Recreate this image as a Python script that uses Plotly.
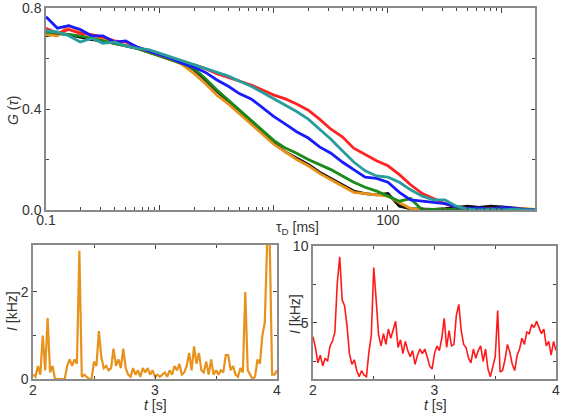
import plotly.graph_objects as go

W, H = 562, 415

# ---------------- data ----------------
tau_ms = [0.1, 0.126, 0.158, 0.2, 0.251, 0.316, 0.398, 0.501, 0.631, 0.794,
          1.0, 1.26, 1.58, 2.0, 2.51, 3.16, 3.98, 5.01, 6.31, 7.94,
          10.0, 12.6, 15.8, 20.0, 25.1, 31.6, 39.8, 50.1, 63.1, 79.4,
          100, 126, 158, 200, 251, 316, 398, 501, 631, 794,
          1000, 1260, 1580, 2000]

g_black = [0.69, 0.70, 0.695, 0.685, 0.675, 0.67, 0.66, 0.65, 0.64, 0.625,
           0.61, 0.595, 0.58, 0.555, 0.515, 0.47, 0.43, 0.39, 0.345, 0.305,
           0.265, 0.23, 0.205, 0.18, 0.15, 0.125, 0.10, 0.075, 0.065, 0.06,
           0.065, 0.015, 0.005, 0.003, 0.002, 0.005, 0.01, 0.015, 0.01, 0.015,
           0.012, 0.008, 0.005, 0.0]
g_orange = [0.695, 0.69, 0.73, 0.71, 0.69, 0.68, 0.665, 0.65, 0.64, 0.625,
            0.61, 0.595, 0.575, 0.54, 0.50, 0.455, 0.42, 0.38, 0.34, 0.30,
            0.26, 0.23, 0.20, 0.175, 0.145, 0.12, 0.095, 0.07, 0.065, 0.06,
            0.055, 0.03, 0.005, 0.0, 0.0, 0.002, 0.0, 0.0, 0.002, 0.0,
            0.0, 0.003, 0.005, 0.002]
g_green = [0.705, 0.70, 0.695, 0.69, 0.68, 0.67, 0.66, 0.65, 0.64, 0.625,
           0.61, 0.595, 0.58, 0.56, 0.52, 0.475, 0.435, 0.395, 0.355, 0.315,
           0.275, 0.245, 0.225, 0.20, 0.18, 0.16, 0.135, 0.11, 0.09, 0.075,
           0.055, 0.035, 0.045, 0.0, 0.002, 0.0, 0.003, 0.0, 0.002, 0.004,
           0.002, 0.0, 0.0, 0.0]
g_red = [0.72, 0.70, 0.715, 0.70, 0.695, 0.685, 0.67, 0.665, 0.645, 0.63,
         0.615, 0.60, 0.585, 0.575, 0.56, 0.54, 0.525, 0.51, 0.495, 0.475,
         0.455, 0.44, 0.42, 0.395, 0.36, 0.32, 0.29, 0.245, 0.22, 0.195,
         0.175, 0.14, 0.10, 0.065, 0.045, 0.025, 0.012, 0.005, 0.003, 0.005,
         0.002, 0.004, 0.002, 0.0]
g_blue = [0.765, 0.72, 0.73, 0.715, 0.69, 0.69, 0.665, 0.67, 0.645, 0.63,
          0.615, 0.60, 0.58, 0.565, 0.545, 0.515, 0.49, 0.46, 0.44, 0.405,
          0.37, 0.34, 0.31, 0.285, 0.25, 0.225, 0.19, 0.16, 0.13, 0.125,
          0.11, 0.07, 0.04, 0.035, 0.03, 0.025, 0.012, 0.005, 0.008, 0.003,
          0.01, 0.005, 0.002, 0.0]
g_teal = [0.71, 0.705, 0.69, 0.665, 0.68, 0.66, 0.665, 0.65, 0.64, 0.635,
          0.62, 0.605, 0.59, 0.575, 0.56, 0.545, 0.53, 0.51, 0.49, 0.465,
          0.44, 0.415, 0.39, 0.36, 0.32, 0.28, 0.235, 0.19, 0.155, 0.135,
          0.13, 0.11, 0.08, 0.055, 0.04, 0.04, 0.015, 0.003, 0.0, 0.002,
          0.0, 0.003, 0.0, 0.0]

t_s = [2.00, 2.02, 2.04, 2.06, 2.08, 2.10, 2.12, 2.14, 2.16, 2.18,
       2.20, 2.22, 2.24, 2.26, 2.28, 2.30, 2.32, 2.34, 2.36, 2.38,
       2.40, 2.42, 2.44, 2.46, 2.48, 2.50, 2.52, 2.54, 2.56, 2.58,
       2.60, 2.62, 2.64, 2.66, 2.68, 2.70, 2.72, 2.74, 2.76, 2.78,
       2.80, 2.82, 2.84, 2.86, 2.88, 2.90, 2.92, 2.94, 2.96, 2.98,
       3.00, 3.02, 3.04, 3.06, 3.08, 3.10, 3.12, 3.14, 3.16, 3.18,
       3.20, 3.22, 3.24, 3.26, 3.28, 3.30, 3.32, 3.34, 3.36, 3.38,
       3.40, 3.42, 3.44, 3.46, 3.48, 3.50, 3.52, 3.54, 3.56, 3.58,
       3.60, 3.62, 3.64, 3.66, 3.68, 3.70, 3.72, 3.74, 3.76, 3.78,
       3.80, 3.82, 3.84, 3.86, 3.88, 3.90, 3.92, 3.94, 3.96, 3.98, 4.00]

i_orange = [0.1, 0.05, 0.3, 0.1, 1.0, 0.2, 1.4, 0.15, 0.3, 0.0,
            0.0, 0.0, 0.0, 0.0, 0.3, 0.45, 0.3, 0.45, 0.35, 2.95,
            0.05, 0.1, 0.05, 0.0, 0.0, 0.4, 0.3, 1.1, 0.5, 0.25,
            0.3, 0.2, 0.25, 0.7, 0.3, 0.45, 0.25, 0.7, 0.25, 0.1,
            0.05, 0.25, 0.1, 0.2, 0.05, 0.25, 0.15, 0.25, 0.1, 0.2,
            0.05, 0.1, 0.05, 0.1, 0.15, 0.05, 0.2, 0.1, 0.3, 0.2,
            0.35, 0.1, 0.15, 0.3, 0.6, 0.2, 0.75, 0.35, 0.6, 0.2,
            0.15, 0.4, 0.1, 0.45, 0.1, 0.2, 0.1, 0.2, 0.15, 0.55,
            0.55, 0.2, 0.3, 0.1, 0.05, 0.25, 0.15, 2.0, 0.2, 0.1,
            0.0, 0.05, 0.45, 0.35, 1.0, 1.3, 3.2, 3.2, 0.1, 0.1, 0.2]

i_red = [4.1, 3.4, 2.4, 2.9, 2.2, 2.7, 2.5, 3.5, 3.8, 4.4,
         7.6, 9.3, 6.5, 6.1, 4.8, 3.0, 2.3, 2.6, 1.9, 1.5,
         1.9, 1.6, 1.5, 3.1, 4.2, 8.6, 6.5, 4.2, 3.5, 4.3,
         3.6, 4.6, 4.0, 4.6, 5.1, 3.4, 3.9, 3.0, 3.8, 3.2,
         2.8, 3.2, 2.3, 2.9, 3.3, 3.0, 3.3, 2.8, 2.2, 2.0,
         3.0, 3.5, 3.2, 4.0, 5.3, 3.4, 4.5, 3.5, 3.6, 5.5,
         6.2, 4.5, 3.6, 3.4, 2.7, 2.4, 3.3, 2.7, 3.2, 3.5,
         2.5, 3.3, 2.0, 1.5, 2.1, 2.8, 5.8, 1.8, 1.9, 2.6,
         3.6, 3.1, 2.3, 1.9, 2.9, 3.3, 4.0, 3.6, 4.4, 4.3,
         4.9, 4.7, 5.1, 4.7, 4.3, 4.6, 3.5, 3.8, 2.9, 3.8, 3.2]

# ---------------- figure ----------------
def px(x):
    return x / W

def py(y):
    return 1 - y / H

FONT = "Liberation Sans, Arial, sans-serif"
TXT = "#333333"
AX = "#8a8a8a"

fig = go.Figure()

top_series = [
    (g_black, "#111111"),
    (g_orange, "#e8921c"),
    (g_green, "#1a8a1a"),
    (g_red, "#ff2222"),
    (g_blue, "#1a1aff"),
    (g_teal, "#2a9c9c"),
]
for vals, col in top_series:
    fig.add_trace(go.Scatter(x=tau_ms, y=vals, mode="lines", xaxis="x", yaxis="y",
                             line=dict(color=col, width=2.8), showlegend=False))

fig.add_trace(go.Scatter(x=t_s, y=i_orange, mode="lines", xaxis="x2", yaxis="y2",
                         line=dict(color="#e8921c", width=2.2), showlegend=False))
fig.add_trace(go.Scatter(x=t_s, y=i_red, mode="lines", xaxis="x3", yaxis="y3",
                         line=dict(color="#ff1a1a", width=1.6), showlegend=False))

common = dict(showline=True, linecolor=AX, linewidth=1.5, mirror="ticks",
              ticks="inside", tickcolor="#444444", tickwidth=1, showgrid=False,
              zeroline=False, automargin=False, ticklabeloverflow="allow",
              tickfont=dict(family=FONT, size=14, color=TXT))

log_minor = []
for dec in [0.1, 1, 10, 100, 1000]:
    for m in range(2, 10):
        log_minor.append(dec * m)

fig.update_layout(
    width=W, height=H,
    margin=dict(l=0, r=0, t=0, b=0, autoexpand=False),
    paper_bgcolor="white", plot_bgcolor="white", showlegend=False,
    xaxis=dict(domain=[px(46), px(535)], anchor="y", type="log",
               range=[-1, 3.29], tickmode="array",
               tickvals=[0.1, 1, 10, 100, 1000],
               ticktext=["0.1", "", "", "100", ""], ticklen=5,
               ticklabelstandoff=-4,
               minor=dict(ticks="inside", ticklen=3, tickvals=log_minor,
                          tickcolor="#444444"),
               **common),
    yaxis=dict(domain=[py(210), py(8)], anchor="x", range=[0, 0.8],
               tickmode="array", tickvals=[0, 0.4, 0.8],
               ticktext=["0.0", "0.4", "0.8"], ticklen=4,
               minor=dict(ticks="inside", ticklen=3, tickvals=[0.2, 0.6],
                          tickcolor="#444444"),
               **common),
    xaxis2=dict(domain=[px(33), px(277)], anchor="y2", range=[2, 4],
                tickmode="array", tickvals=[2, 3, 4], ticklen=4,
                ticklabelstandoff=-3,
                minor=dict(ticks="inside", ticklen=3, tickvals=[2.5, 3.5],
                           tickcolor="#444444"),
                **common),
    yaxis2=dict(domain=[py(379), py(245)], anchor="x2", range=[0, 3.08],
                tickmode="array", tickvals=[0, 2], ticklen=4,
                minor=dict(ticks="inside", ticklen=3, tickvals=[1],
                           tickcolor="#444444"),
                **common),
    xaxis3=dict(domain=[px(313), px(556)], anchor="y3", range=[2, 4],
                tickmode="array", tickvals=[2, 3, 4], ticklen=4,
                ticklabelstandoff=-3,
                minor=dict(ticks="inside", ticklen=3, tickvals=[2.5, 3.5],
                           tickcolor="#444444"),
                **common),
    yaxis3=dict(domain=[py(379), py(246)], anchor="x3", range=[1.35, 10],
                tickmode="array", tickvals=[5, 10], ticklen=4,
                minor=dict(ticks="inside", ticklen=3, tickvals=[2.5, 7.5],
                           tickcolor="#444444"),
                **common),
)

ann_font = dict(family=FONT, size=14, color=TXT)
annotations = [
    dict(text="<i>G</i> (<i>τ</i>)", x=px(13), y=py(110), textangle=-90),
    dict(text="τ<sub>D</sub> [ms]", x=px(297), y=py(228)),
    dict(text="<i>I</i> [kHz]", x=px(12), y=py(311), textangle=-90),
    dict(text="<i>t</i> [s]", x=px(155), y=py(405)),
    dict(text="<i>I</i> [kHz]", x=px(295), y=py(314), textangle=-90),
    dict(text="<i>t</i> [s]", x=px(435), y=py(405)),
]
for a in annotations:
    fig.add_annotation(xref="paper", yref="paper", showarrow=False,
                       xanchor="center", yanchor="middle", font=ann_font, **a)

fig.write_html("out.html",
               config={"displayModeBar": False},
               post_script="document.body.style.margin='0px';"
                           "document.body.style.overflow='hidden';")
